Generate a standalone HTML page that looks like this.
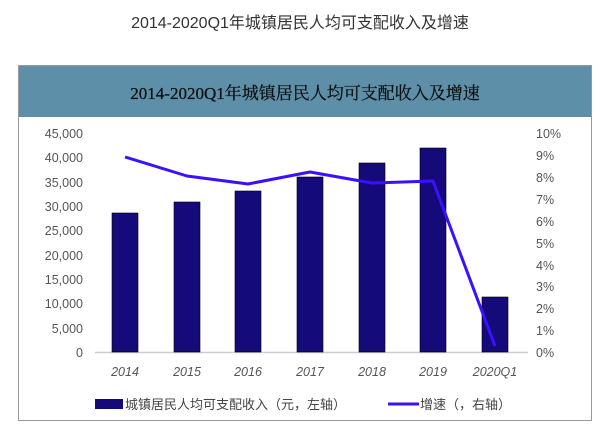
<!DOCTYPE html>
<html><head><meta charset="utf-8"><style>
body{margin:0;background:#fff;}
svg text{font-family:"Liberation Sans","Noto Sans CJK SC",sans-serif;}
</style></head><body>
<svg width="600" height="432" xmlns="http://www.w3.org/2000/svg">
<rect width="600" height="432" fill="#fff"/>
<text x="300" y="28" text-anchor="middle" font-size="16" fill="#333">2014-2020Q1年城镇居民人均可支配收入及增速</text>
<rect x="18.5" y="65.5" width="573" height="355" fill="#fff" stroke="#999"/>
<rect x="19" y="66" width="572" height="51" fill="#5e8fa8"/>
<text x="305" y="99" text-anchor="middle" font-size="17" fill="#111" stroke="#111" stroke-width="0.3" style="font-family:'Liberation Serif','Noto Serif CJK SC',serif">2014-2020Q1年城镇居民人均可支配收入及增速</text>
<line x1="95" y1="352.5" x2="528" y2="352.5" stroke="#ccc" stroke-width="1.5"/>
<g fill="#140a7a" stroke="#000" stroke-width="0.6">
<rect x="112" y="213" width="26" height="139"/>
<rect x="174" y="202" width="26" height="150"/>
<rect x="235" y="191" width="26" height="161"/>
<rect x="297" y="177" width="26" height="175"/>
<rect x="359" y="163" width="26" height="189"/>
<rect x="420" y="148" width="26" height="204"/>
<rect x="482" y="297" width="26" height="55"/>
</g>
<polyline points="125,157 187,176 248,184 310,172 372,183 433,181 495,346" fill="none" stroke="#3a10ff" stroke-width="3" stroke-linejoin="round"/>
<g font-size="12.5" fill="#555" text-anchor="end">
<text x="83" y="138">45,000</text><text x="83" y="162">40,000</text><text x="83" y="187">35,000</text><text x="83" y="211">30,000</text><text x="83" y="235">25,000</text><text x="83" y="260">20,000</text><text x="83" y="284">15,000</text><text x="83" y="308">10,000</text><text x="83" y="333">5,000</text><text x="83" y="357">0</text>
</g>
<g font-size="12.5" fill="#555">
<text x="536" y="138">10%</text><text x="536" y="160">9%</text><text x="536" y="182">8%</text><text x="536" y="204">7%</text><text x="536" y="226">6%</text><text x="536" y="248">5%</text><text x="536" y="270">4%</text><text x="536" y="291">3%</text><text x="536" y="313">2%</text><text x="536" y="335">1%</text><text x="536" y="357">0%</text>
</g>
<g font-size="12.5" fill="#555" font-style="italic" text-anchor="middle">
<text x="125" y="376">2014</text><text x="187" y="376">2015</text><text x="248" y="376">2016</text><text x="310" y="376">2017</text><text x="372" y="376">2018</text><text x="433" y="376">2019</text><text x="495" y="376">2020Q1</text>
</g>
<rect x="95" y="399" width="28" height="10" fill="#140a7a"/>
<text x="125" y="409" font-size="13" fill="#444">城镇居民人均可支配收入（元，左轴）</text>
<line x1="388" y1="404" x2="419" y2="404" stroke="#3a10ff" stroke-width="3"/>
<text x="420" y="409" font-size="13" fill="#444">增速（，右轴）</text>
</svg>
</body></html>
